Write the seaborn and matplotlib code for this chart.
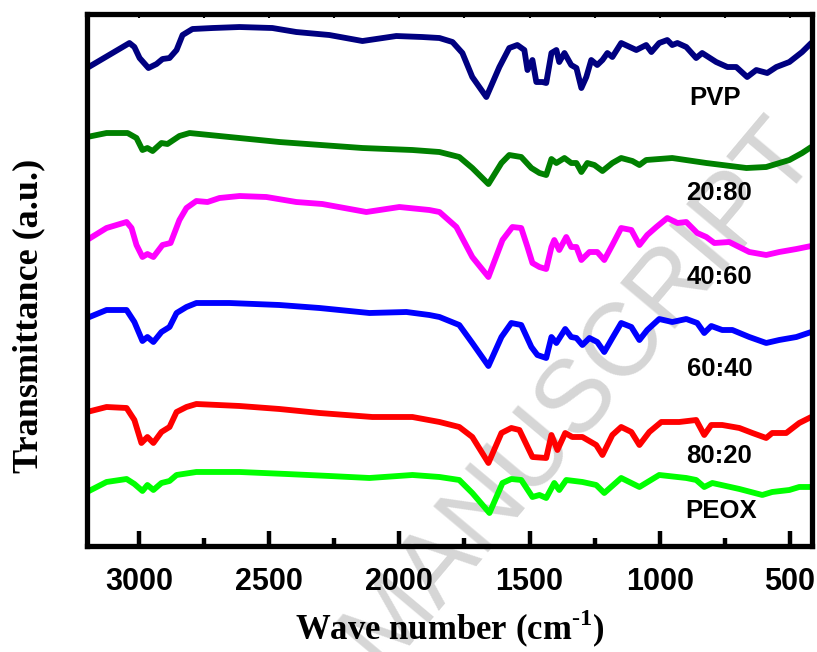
import pandas as pd
import matplotlib
matplotlib.use("Agg")
import matplotlib.pyplot as plt
from matplotlib.ticker import MultipleLocator
import seaborn as sns

# FTIR spectra of PVP / PEOX blends (a.u. with vertical offsets)
pvp_wn = [3200, 3037, 3018, 2998, 2964, 2933, 2910, 2883, 2856, 2833, 2795, 2718, 2614, 2488,
          2396, 2269, 2142, 2012, 1912, 1846, 1796, 1758, 1720, 1666, 1616, 1578, 1547, 1520,
          1508, 1489, 1474, 1451, 1436, 1416, 1397, 1386, 1366, 1340, 1320, 1301, 1282, 1263,
          1240, 1220, 1201, 1182, 1148, 1090, 1052, 1032, 1002, 971, 952, 932, 898, 860, 837,
          783, 740, 706, 664, 629, 587, 552, 502, 453, 418]
pvp_t = [478, 503, 499, 488, 478, 482, 487, 488, 496, 511, 517, 518, 519, 518, 514, 511, 505,
         510, 509, 508, 504, 493, 469, 449, 479, 498, 501, 496, 476, 486, 464, 464, 463, 493,
         496, 484, 493, 481, 478, 458, 469, 486, 481, 486, 493, 489, 503, 496, 501, 494, 503,
         506, 501, 503, 499, 488, 493, 484, 479, 479, 469, 476, 473, 479, 484, 494, 503]

b2080_wn = [3200, 3125, 3044, 3010, 2987, 2968, 2948, 2914, 2891, 2845, 2806, 2653, 2461, 2142,
            1950, 1846, 1770, 1720, 1658, 1608, 1578, 1532, 1493, 1462, 1436, 1416, 1397, 1366,
            1340, 1320, 1301, 1278, 1251, 1220, 1182, 1148, 1105, 1078, 1052, 952, 821, 667,
            591, 502, 453, 418]
b2080_t = [409, 413, 413, 408, 396, 398, 395, 403, 402, 410, 413, 409, 404, 398, 396, 394, 389,
           378, 362, 383, 391, 389, 378, 373, 371, 387, 383, 388, 383, 383, 374, 383, 381, 375,
           383, 388, 385, 381, 386, 388, 383, 378, 379, 386, 393, 399]

b4060_wn = [3200, 3125, 3048, 3029, 3010, 2987, 2968, 2945, 2910, 2879, 2845, 2818, 2780, 2737,
            2691, 2614, 2511, 2396, 2296, 2127, 2000, 1885, 1846, 1781, 1720, 1658, 1604, 1566,
            1532, 1508, 1489, 1462, 1436, 1416, 1405, 1386, 1359, 1340, 1320, 1301, 1270, 1240,
            1213, 1182, 1148, 1109, 1078, 1048, 1013, 971, 932, 898, 856, 821, 790, 733, 656,
            591, 541, 475, 418]
b4060_t = [306, 318, 324, 318, 301, 289, 292, 289, 301, 303, 326, 338, 345, 344, 348, 350, 349,
           344, 342, 334, 339, 336, 334, 319, 289, 269, 306, 319, 318, 299, 283, 279, 277, 299,
           306, 296, 309, 299, 299, 286, 294, 294, 286, 301, 318, 316, 301, 311, 319, 328, 323,
           324, 313, 309, 303, 304, 294, 291, 294, 297, 300]

b6040_wn = [3200, 3125, 3048, 3018, 2987, 2968, 2945, 2914, 2883, 2856, 2818, 2780, 2653, 2461,
            2307, 2115, 1973, 1885, 1846, 1770, 1720, 1658, 1608, 1570, 1532, 1493, 1470, 1436,
            1416, 1397, 1363, 1340, 1320, 1297, 1270, 1240, 1213, 1182, 1148, 1109, 1078, 1048,
            1002, 952, 898, 856, 829, 802, 760, 721, 656, 591, 541, 475, 418]
b6040_t = [228, 236, 236, 224, 205, 209, 204, 214, 219, 233, 239, 243, 243, 241, 238, 233, 234,
           231, 229, 221, 203, 180, 209, 223, 221, 199, 191, 188, 209, 203, 217, 209, 208, 201,
           208, 204, 194, 208, 223, 219, 206, 216, 227, 224, 227, 223, 213, 220, 216, 216, 209,
           203, 206, 209, 214]

b8020_wn = [3200, 3125, 3048, 3018, 2991, 2968, 2945, 2914, 2883, 2856, 2818, 2780, 2614, 2461,
            2307, 2104, 1950, 1846, 1770, 1720, 1658, 1608, 1570, 1539, 1489, 1436, 1416, 1393,
            1363, 1336, 1297, 1244, 1220, 1182, 1148, 1109, 1078, 1040, 994, 925, 860, 829, 802,
            760, 694, 644, 591, 568, 514, 464, 418]
b8020_t = [134, 139, 138, 126, 103, 109, 103, 114, 119, 134, 139, 142, 140, 137, 133, 129, 129,
           124, 119, 109, 83, 113, 118, 116, 89, 88, 111, 96, 113, 109, 109, 101, 91, 111, 119,
           114, 101, 114, 124, 124, 126, 111, 121, 121, 118, 113, 108, 113, 113, 123, 129]

peox_wn = [3200, 3125, 3048, 3018, 2987, 2968, 2945, 2914, 2883, 2856, 2780, 2614, 2434, 2269,
           2115, 1950, 1846, 1770, 1720, 1654, 1604, 1570, 1532, 1489, 1462, 1436, 1405, 1386,
           1359, 1297, 1244, 1213, 1148, 1078, 1002, 898, 860, 829, 798, 694, 606, 568, 502,
           464, 418]
peox_t = [54, 64, 67, 62, 55, 61, 56, 63, 65, 71, 74, 74, 72, 70, 68, 71, 69, 66, 53, 33, 63,
          67, 66, 49, 51, 48, 63, 56, 66, 64, 61, 53, 68, 59, 71, 68, 66, 59, 63, 57, 51, 54,
          56, 59, 59]

names = ["PVP", "20:80", "40:60", "60:40", "80:20", "PEOX"]
colors = ["#000080", "#008000", "#ff00ff", "#0000ff", "#ff0000", "#00ff00"]
label_x = [787, 771, 771, 771, 771, 764]
label_y = [448, 353, 269, 177, 90, 35]

series = {
    "PVP": (pvp_wn, pvp_t),
    "20:80": (b2080_wn, b2080_t),
    "40:60": (b4060_wn, b4060_t),
    "60:40": (b6040_wn, b6040_t),
    "80:20": (b8020_wn, b8020_t),
    "PEOX": (peox_wn, peox_t),
}

rows = []
for name in names:
    wn, t = series[name]
    for w, v in zip(wn, t):
        rows.append({"wn": w, "T": v, "sample": name})
df = pd.DataFrame(rows)

sns.set_style("ticks")
plt.rcParams["font.family"] = ["Liberation Sans", "DejaVu Sans"]
plt.rcParams["mathtext.fontset"] = "custom"
plt.rcParams["mathtext.rm"] = "Liberation Serif"
plt.rcParams["mathtext.bf"] = "Liberation Serif:bold"
for key in ["text.color", "axes.edgecolor", "axes.labelcolor", "xtick.color", "ytick.color"]:
    plt.rcParams[key] = "black"

fig = plt.figure(figsize=(8.17, 6.52), dpi=100, facecolor="white")
ax = fig.add_axes([0.1065, 0.1626, 0.8874, 0.8159])
ax.set_facecolor("none")

# watermark behind the plot
fig.text(580 / 817, 1 - 392 / 652, "MANUSCRIPT", rotation=50, rotation_mode="anchor",
         ha="center", va="center", fontsize=74, color="#d6d6d6", zorder=-1)

sns.lineplot(data=df, x="wn", y="T", hue="sample", hue_order=names,
             palette=dict(zip(names, colors)), estimator=None, sort=False,
             legend=False, linewidth=4.2, solid_joinstyle="round",
             solid_capstyle="round", ax=ax)

for name, x, y in zip(names, label_x, label_y):
    ax.text(x, y, name, ha="center", va="center", fontsize=18.5, fontweight="bold")

ax.set_xlim(3200, 415)
ax.set_ylim(0, 532)
ax.xaxis.set_major_locator(MultipleLocator(500))
ax.xaxis.set_minor_locator(MultipleLocator(250))
ax.set_yticks([])

for sp in ax.spines.values():
    sp.set_linewidth(3.8)
    sp.set_visible(True)

ax.tick_params(axis="x", which="major", direction="in", length=11, width=3.2,
               labelsize=22, pad=15, top=True)
ax.tick_params(axis="x", which="minor", direction="in", length=5.5, width=3.2, top=True)
for lab in ax.get_xticklabels():
    lab.set_fontweight("bold")
for tk in ax.xaxis.get_major_ticks() + ax.xaxis.get_minor_ticks():
    tk.tick2line.set_markersize(3)
    tk.tick2line.set_markeredgewidth(1.5)

ax.set_xlabel(r"Wave number (cm$^{\mathbf{\text{-}1}}$)", family="Liberation Serif",
              fontweight="bold", fontsize=25, labelpad=8)
ax.set_ylabel("Transmittance (a.u.)", family="Liberation Serif",
              fontweight="bold", fontsize=26)
ax.yaxis.set_label_coords(-0.058, 0.432)

fig.savefig("out.png", dpi=100)
